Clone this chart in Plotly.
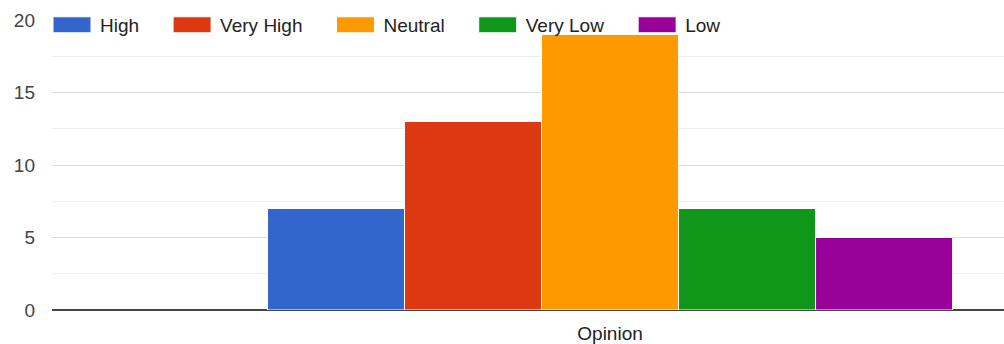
import plotly.graph_objects as go

categories = ["Opinion"]
series_names = ["High", "Very High", "Neutral", "Very Low", "Low"]
series_values = [[7], [13], [19], [7], [5]]
series_colors = ["#3366cc", "#dc3912", "#ff9900", "#109618", "#990099"]
y_ticks = [0, 5, 10, 15, 20]

fig = go.Figure()
for name, vals, col in zip(series_names, series_values, series_colors):
    fig.add_trace(go.Bar(x=categories, y=vals, name=name,
                         marker=dict(color=col, line=dict(color="white", width=1))))

fig.update_layout(
    width=1004, height=344,
    margin=dict(l=52, r=0, t=20, b=34),
    paper_bgcolor="white", plot_bgcolor="white",
    barmode="group", bargap=0.2, bargroupgap=0,
    font=dict(family="Arial, Liberation Sans, sans-serif", size=19, color="#222"),
    showlegend=True,
    legend=dict(orientation="h", x=0, xanchor="left", y=0.983, yanchor="middle",
                bgcolor="rgba(0,0,0,0)", itemwidth=38, font=dict(size=19, color="#222"),
                itemclick=False, itemdoubleclick=False, entrywidth=60),
    xaxis=dict(type="category", range=[-0.6517, 0.4601], showgrid=False, ticks="",
               showline=False, zeroline=False, tickfont=dict(size=19, color="#222"),
               ticklabelstandoff=10, fixedrange=True),
    yaxis=dict(range=[0, 20], tickvals=y_ticks, showgrid=True, gridcolor="#dcdcdc",
               gridwidth=1, zeroline=True, zerolinecolor="#444", zerolinewidth=2,
               showline=False, ticks="", tickfont=dict(size=19, color="#444"),
               ticklabelstandoff=16,
               minor=dict(dtick=2.5, showgrid=True, gridcolor="#efefef", gridwidth=1),
               fixedrange=True),
)

post = """
var gd = document.getElementsByClassName('plotly-graph-div')[0];
function fixLegend(){
  var paths = gd.querySelectorAll('.legend .legendpoints path');
  paths.forEach(function(p){ p.setAttribute('d','M15,8H-23V-8H15Z'); });
  var traces = gd.querySelectorAll('.legend .traces');
  var x = 0, y0 = null;
  traces.forEach(function(t){
    var tr = t.getAttribute('transform') || '';
    var m = tr.match(/translate\\(([^,\\s]+)[,\\s]+([^\\)]+)\\)/);
    var y = m ? parseFloat(m[2]) : 0;
    if (y0 === null) y0 = y;
    t.setAttribute('transform', 'translate(' + x + ',' + y0 + ')');
    var txt = t.querySelector('text.legendtext');
    var w = txt ? txt.getBBox().width : 0;
    x += 48 + w + 33;
  });
  var clip = gd.querySelectorAll('.legend .scrollbox, .legend .bg');
  var leg = gd.querySelector('.legend');
  if (leg) { leg.removeAttribute('clip-path'); }
  var sb = gd.querySelector('.legend .scrollbox');
  if (sb) { sb.removeAttribute('clip-path'); }
}
fixLegend();
"""

fig.write_html("out.html", post_script=post, config={"displayModeBar": False})
